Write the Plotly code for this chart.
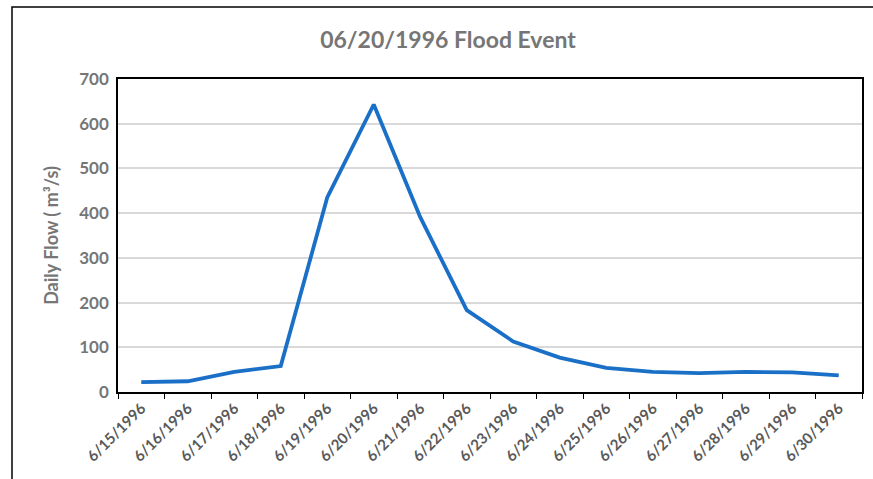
import plotly.graph_objects as go

dates = ["6/15/1996", "6/16/1996", "6/17/1996", "6/18/1996", "6/19/1996", "6/20/1996",
         "6/21/1996", "6/22/1996", "6/23/1996", "6/24/1996", "6/25/1996", "6/26/1996",
         "6/27/1996", "6/28/1996", "6/29/1996", "6/30/1996"]
flow = [22, 24, 45, 58, 435, 643, 391, 183, 113, 77, 54, 45, 42, 45, 44, 37]
y_ticks = [0, 100, 200, 300, 400, 500, 600, 700]

W, H = 873, 479
L, R, T, B = 118, 11, 79, 87
pw, ph = W - L - R, H - T - B

def px_x(x):
    return (x - L) / pw

def px_y(y):
    return (H - B - y) / ph

fig = go.Figure()
fig.add_trace(go.Scatter(x=dates, y=flow, mode="lines",
                         line=dict(color="#1A6FC6", width=3.8),
                         showlegend=False, hoverinfo="x+y"))

fig.update_layout(
    width=W, height=H,
    margin=dict(l=L, r=R, t=T, b=B, autoexpand=False),
    paper_bgcolor="white", plot_bgcolor="white",
    font=dict(family="Lato", color="#595959"),
    title=dict(text="06/20/1996 Flood Event", x=(448) / W, xanchor="center",
               y=1 - 40 / H, yanchor="middle",
               font=dict(size=23, color="#767676", family="Lato", weight="bold")),
    xaxis=dict(type="category", tickangle=-45, tickson="boundaries", automargin=False,
               range=[-0.5, len(dates) - 0.5],
               ticks="outside", ticklen=5, tickcolor="black", tickwidth=1,
               showline=True, linecolor="black", linewidth=1.5, mirror=True,
               showgrid=False,
               tickfont=dict(size=15, color="#595959", family="Lato", weight="bold")),
    yaxis=dict(range=[0, 700], tickvals=y_ticks, showgrid=True, gridcolor="#D9D9D9",
               gridwidth=1.5, showline=True, linecolor="black", linewidth=1.5, mirror=True,
               ticks="", zeroline=False, automargin=False, ticklabelstandoff=4,
               tickfont=dict(size=17, color="#767676", family="Lato", weight="bold"),
               title=dict(text="Daily Flow ( m³/s)", standoff=16,
                          font=dict(size=18, color="#767676", family="Lato", weight="bold"))),
)

fig.add_shape(type="rect", xref="paper", yref="paper",
              x0=px_x(12), x1=px_x(900), y0=px_y(520), y1=px_y(7),
              line=dict(color="black", width=1.5), fillcolor="rgba(0,0,0,0)", layer="above")

fig.write_html("out.html")
